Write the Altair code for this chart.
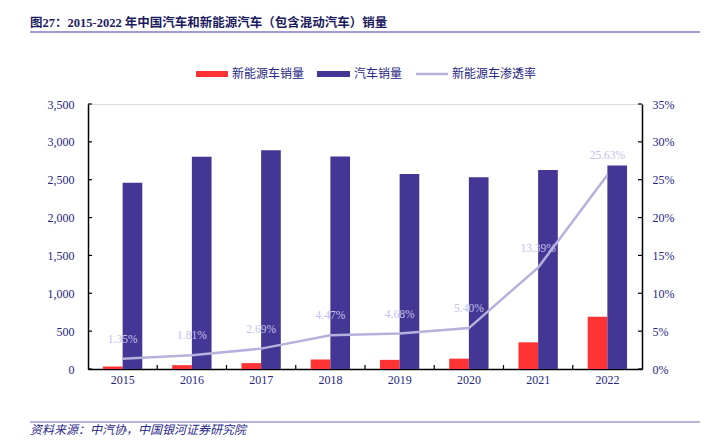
import altair as alt
import pandas as pd

years = ["2015", "2016", "2017", "2018", "2019", "2020", "2021", "2022"]
nev_sales = [33.1, 50.7, 77.7, 125.6, 120.6, 136.7, 352.1, 688.7]
total_sales = [2459.8, 2802.8, 2887.9, 2808.1, 2576.9, 2531.1, 2627.5, 2686.4]
penetration = [1.35, 1.81, 2.69, 4.47, 4.68, 5.40, 13.39, 25.63]
left_ticks = [0, 500, 1000, 1500, 2000, 2500, 3000, 3500]
right_ticks = [0, 5, 10, 15, 20, 25, 30, 35]
series_names = ["新能源车销量", "汽车销量", "新能源车渗透率"]
colors = ["#FF3333", "#443694", "#B4B1DC"]
title_text = "图27：2015-2022 年中国汽车和新能源汽车（包含混动汽车）销量"
source_text = "资料来源：中汽协，中国银河证券研究院"

W, H = 554, 265
SERIF = "Liberation Serif"
CJK = "Liberation Serif, Noto Sans CJK SC"
NAVY = "#26267F"

bar_df = pd.DataFrame({
    "year": years * 2,
    "series": [series_names[0]] * len(years) + [series_names[1]] * len(years),
    "value": nev_sales + total_sales,
})
line_df = pd.DataFrame({
    "year": years,
    "rate": penetration,
    "label": [f"{v:.2f}%" for v in penetration],
})

xscale = alt.Scale(domain=years, paddingInner=0, paddingOuter=0)
lscale = alt.Scale(domain=[0, 3500], nice=False)
rscale = alt.Scale(domain=[0, 35], nice=False)

x_axis = alt.Axis(title=None, labelAngle=0, ticks=False, domainColor="black",
                  domainWidth=1.5, labelFont=SERIF, labelFontSize=12,
                  labelColor=NAVY, labelPadding=5)
left_axis = alt.Axis(title=None, values=left_ticks, format=",.0f", grid=False, ticks=False,
                     domainColor="black", domainWidth=1.5, labelFont=SERIF,
                     labelFontSize=12, labelColor=NAVY, labelPadding=14, labelOverlap=False)
right_axis = alt.Axis(orient="right", title=None, values=right_ticks,
                      labelExpr="datum.value + '%'", grid=False, ticks=False,
                      domainColor="black", domainWidth=1.5, labelFont=SERIF,
                      labelFontSize=12, labelColor=NAVY, labelPadding=10, labelOverlap=False)

bars = alt.Chart(bar_df).mark_bar().encode(
    x=alt.X("year:N", scale=xscale, sort=years, axis=x_axis),
    xOffset=alt.XOffset("series:N", sort=series_names[:2],
                        scale=alt.Scale(domain=series_names[:2], paddingInner=0, paddingOuter=0.76)),
    y=alt.Y("value:Q", scale=lscale, axis=left_axis),
    color=alt.Color("series:N", scale=alt.Scale(domain=series_names[:2], range=colors[:2]),
                    legend=None),
)

x_tick_df = pd.DataFrame({"year": years[1:]})
x_ticks = alt.Chart(x_tick_df).mark_rule(color="black", strokeWidth=1.2).encode(
    x=alt.X("year:N", scale=xscale, sort=years, bandPosition=0, axis=x_axis),
    y=alt.value(H),
    y2=alt.value(H - 4),
)

l_tick_df = pd.DataFrame({"value": left_ticks})
l_ticks = alt.Chart(l_tick_df).mark_rule(color="black", strokeWidth=1.2).encode(
    y=alt.Y("value:Q", scale=lscale, axis=left_axis),
    x=alt.value(0),
    x2=alt.value(4),
)

# decorations: title, underline, legend, footer
title = alt.Chart(pd.DataFrame({"t": [title_text]})).mark_text(
    align="left", baseline="alphabetic", font=CJK, fontSize=12.5, fontWeight="bold",
    color="#1B1B5E"
).encode(x=alt.value(-58), y=alt.value(-77), text="t:N")

title_rule = alt.Chart(pd.DataFrame({"a": [0]})).mark_rule(color="#A09CD0", strokeWidth=2).encode(
    x=alt.value(-58), x2=alt.value(612), y=alt.value(-72)
)

footer_rule = alt.Chart(pd.DataFrame({"a": [0]})).mark_rule(color="#9C98D0", strokeWidth=1.5).encode(
    x=alt.value(-58), x2=alt.value(612), y=alt.value(318)
)

footer = alt.Chart(pd.DataFrame({"t": [source_text]})).mark_text(
    align="left", baseline="middle", font=CJK, fontSize=12, fontStyle="italic", color="#2A2A8A"
).encode(x=alt.value(-58), y=alt.value(325.5), text="t:N")

leg_y = -30
leg_red = alt.Chart(pd.DataFrame({"s": [series_names[0]]})).mark_rect(color=colors[0]).encode(
    x=alt.value(108), x2=alt.value(140), y=alt.value(leg_y - 3), y2=alt.value(leg_y + 3)
)
leg_red_t = alt.Chart(pd.DataFrame({"s": [series_names[0]]})).mark_text(
    align="left", baseline="middle", font=CJK, fontSize=12, color=NAVY
).encode(x=alt.value(144), y=alt.value(leg_y), text="s:N")

leg_navy = alt.Chart(pd.DataFrame({"s": [series_names[1]]})).mark_rect(color=colors[1]).encode(
    x=alt.value(229), x2=alt.value(262), y=alt.value(leg_y - 3), y2=alt.value(leg_y + 3)
)
leg_navy_t = alt.Chart(pd.DataFrame({"s": [series_names[1]]})).mark_text(
    align="left", baseline="middle", font=CJK, fontSize=12, color=NAVY
).encode(x=alt.value(266), y=alt.value(leg_y), text="s:N")

leg_line = alt.Chart(pd.DataFrame({"s": [series_names[2]]})).mark_rule(
    color=colors[2], strokeWidth=2.5
).encode(x=alt.value(328), x2=alt.value(360), y=alt.value(leg_y))
leg_line_t = alt.Chart(pd.DataFrame({"s": [series_names[2]]})).mark_text(
    align="left", baseline="middle", font=CJK, fontSize=12, color=NAVY
).encode(x=alt.value(364), y=alt.value(leg_y), text="s:N")

left_group = alt.layer(
    bars, x_ticks, l_ticks,
    title, title_rule, footer_rule, footer,
    leg_red, leg_red_t, leg_navy, leg_navy_t, leg_line, leg_line_t,
)

line = alt.Chart(line_df).mark_line(color=colors[2], strokeWidth=2.5).encode(
    x=alt.X("year:N", scale=xscale, sort=years, axis=x_axis),
    y=alt.Y("rate:Q", scale=rscale, axis=right_axis),
)

line_labels = alt.Chart(line_df).mark_text(
    dy=-19, font=SERIF, fontSize=11.5, color="#C3C1EC"
).encode(
    x=alt.X("year:N", scale=xscale, sort=years, axis=x_axis),
    y=alt.Y("rate:Q", scale=rscale, axis=right_axis),
    text="label:N",
)

r_tick_df = pd.DataFrame({"rate": right_ticks})
r_ticks = alt.Chart(r_tick_df).mark_rule(color="black", strokeWidth=1.2).encode(
    y=alt.Y("rate:Q", scale=rscale, axis=right_axis),
    x=alt.value(W - 4),
    x2=alt.value(W),
)

right_group = alt.layer(line, line_labels, r_ticks)

chart = alt.layer(left_group, right_group).resolve_scale(y="independent").properties(
    width=W, height=H,
    padding={"left": 80, "top": 96, "right": 58, "bottom": 67},
    autosize=alt.AutoSizeParams(type="none"),
).configure_view(stroke=None).configure(background="white")

chart.save("out.html", embed_options={"renderer": "svg", "actions": False})
